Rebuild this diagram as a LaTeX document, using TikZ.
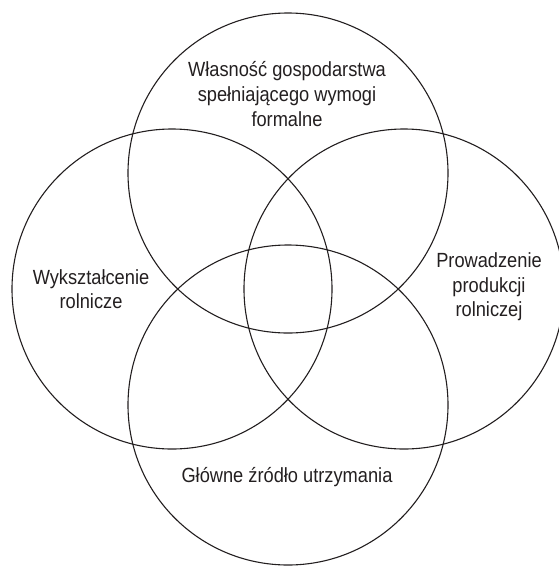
\documentclass[tikz,border=0pt]{standalone}
\usepackage{fontspec}
\setmainfont[FakeStretch=0.89]{Liberation Sans}
\usepackage{tikz}
\usetikzlibrary{positioning}
\definecolor{vennink}{RGB}{35,31,32}

\begin{document}
\begin{tikzpicture}[
  x=1pt, y=-1pt,
  every node/.style={text=vennink},
  ring/.style={circle, draw=vennink, line width=1.1pt,
               minimum size=320pt, inner sep=0pt},
  label/.style={align=center, inner sep=0pt,
                font=\fontsize{20.5}{24.6}\selectfont},
]
\useasboundingbox (0,0) rectangle (558,566);

%% ── Four overlapping sets ────────────────────────────────────────────────────
\node[ring] (ownership)  at (288,173) {};
\node[ring] (education)  at (172,289) {};
\node[ring] (production) at (404,289) {};
\node[ring] (income)     at (288,405) {};

%% ── Set labels ───────────────────────────────────────────────────────────────
\node[label] (ownershipText)  at (287,94)
  {Własność gospodarstwa\\spełniającego wymogi\\formalne};
\node[label] (educationText)  at (91,289)  {Wykształcenie\\rolnicze};
\node[label] (productionText) at (489,287) {Prowadzenie\\produkcji\\rolniczej};
\node[label] (incomeText)     at (287,477) {Główne źródło utrzymania};

\end{tikzpicture}
\end{document}
